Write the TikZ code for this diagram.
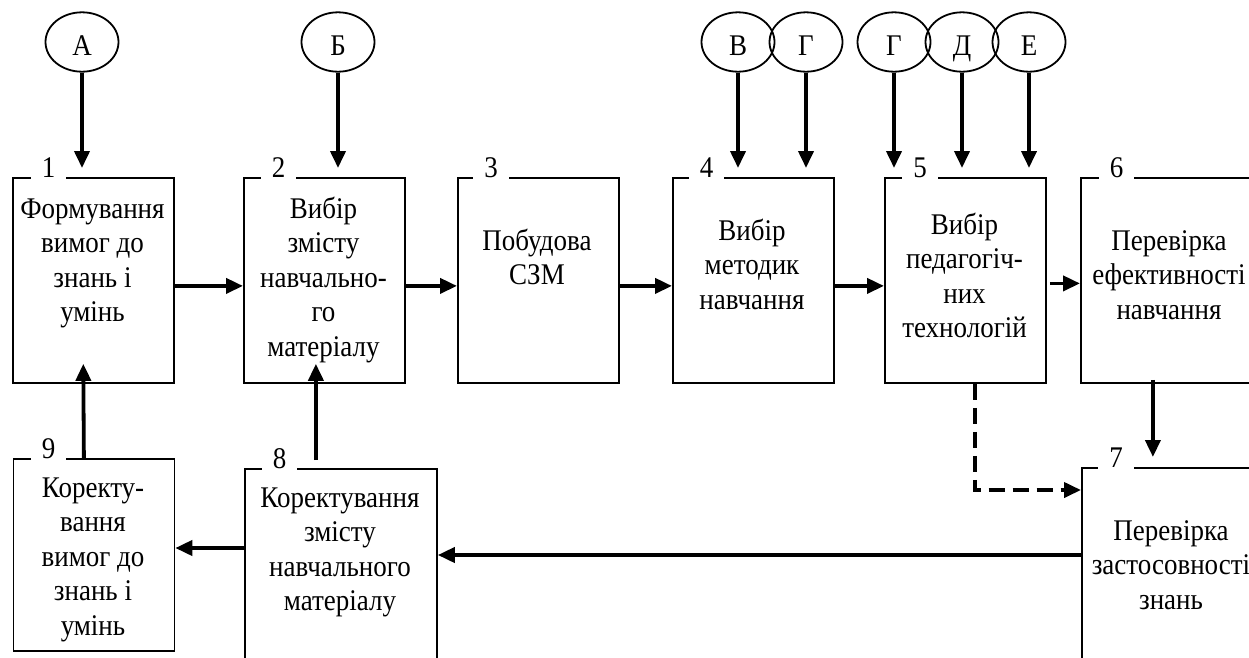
\documentclass[tikz,border=0pt]{standalone}
\usepackage{fontspec}
\setmainfont{Liberation Serif}[FakeStretch=0.9]
\usetikzlibrary{arrows.meta,shapes.geometric}
\newcommand\mystrut{\rule{0pt}{24pt}}
\begin{document}
\begin{tikzpicture}[x=1pt,y=-1pt,
  blk/.style={draw,line width=1.8pt,rectangle,inner sep=0pt,anchor=north west,minimum width=161pt,minimum height=205pt},
  num/.style={fill=white,inner xsep=11pt,inner ysep=2.5pt,anchor=base,font=\fontsize{30}{34}\selectfont},
  txt/.style={align=center,inner sep=0pt,anchor=north,font=\fontsize{30}{34.5}\selectfont},
  src/.style={draw,ellipse,line width=1.8pt,minimum width=73pt,minimum height=58pt,inner sep=0pt,text height=34pt,text depth=8pt,font=\fontsize{30}{34}\selectfont},
  arr/.style={line width=3.8pt,-{Triangle[length=17pt,width=15pt]}},
  darr/.style={arr,dash pattern=on 16pt off 8pt}
]
\useasboundingbox (0,0) rectangle (1249,657);
\clip (0,0) rectangle (1249,657);

% process blocks
\node[blk] (b1) at (12,177) {};
\node[blk] (b2) at (243,177) {};
\node[blk] (b3) at (457,177) {};
\node[blk] (b4) at (672,177) {};
\node[blk] (b5) at (884,177) {};
\node[blk,minimum width=178pt] (b6) at (1080,177) {};
\node[blk,minimum width=180pt,minimum height=220pt] (b7) at (1081,467) {};
\node[blk,minimum width=192pt,minimum height=220pt] (b8) at (244,468) {};
\node[blk,minimum height=192pt] (b9) at (12.5,458) {};

% block numbers set into the top edges
\node[num] (n1) at (48.5,177) {1};
\node[num] (n2) at (278.5,177) {2};
\node[num] (n3) at (491,177) {3};
\node[num] (n4) at (706.5,177) {4};
\node[num] (n5) at (920,177) {5};
\node[num] (n6) at (1116.5,177) {6};
\node[num] (n7) at (1116,467) {7};
\node[num] (n8) at (279.5,468) {8};
\node[num] (n9) at (48.5,458) {9};

% block captions
\node[txt] (t1) at (92.5,194) {\mystrut Формування\\вимог до\\знань і\\умінь};
\node[txt] (t2) at (323.5,194) {\mystrut Вибір\\змісту\\навчально-\\го\\матеріалу};
\node[txt] (t3) at (537,226) {\mystrut Побудова\\СЗМ};
\node[txt] (t4) at (752,216) {\mystrut Вибір\\методик\\навчання};
\node[txt] (t5) at (964.5,210) {\mystrut Вибір\\педагогіч-\\них\\технологій};
\node[txt] (t6) at (1169,226) {\mystrut Перевірка\\ефективності\\навчання};
\node[txt] (t7) at (1171,516) {\mystrut Перевірка\\застосовності\\знань};
\node[txt] (t8) at (340,483) {\mystrut Коректування\\змісту\\навчального\\матеріалу};
\node[txt] (t9) at (93,473) {\mystrut Коректу-\\вання\\вимог до\\знань і\\умінь};

% input factors
\node[src] (eA) at (82,42) {А};
\node[src] (eB) at (338,42) {Б};
\node[src] (eV) at (738,42) {В};
\node[src] (eG) at (806,42) {Г};
\node[src] (eG2) at (894,42) {Г};
\node[src] (eD) at (962,42) {Д};
\node[src] (eE) at (1029,42) {Е};

\draw[arr,shorten >=9pt] (eA.south) -- (eA.south |- b1.north);
\draw[arr,shorten >=9pt] (eB.south) -- (eB.south |- b2.north);
\draw[arr,shorten >=9pt] (eV.south) -- (eV.south |- b4.north);
\draw[arr,shorten >=9pt] (eG.south) -- (eG.south |- b4.north);
\draw[arr,shorten >=9pt] (eG2.south) -- (eG2.south |- b5.north);
\draw[arr,shorten >=9pt] (eD.south) -- (eD.south |- b5.north);
\draw[arr,shorten >=9pt] (eE.south) -- (eE.south |- b5.north);

% main flow
\draw[arr] ([yshift=-5.5pt]b1.east) -- ([yshift=-5.5pt]b2.west);
\draw[arr] ([yshift=-5.5pt]b2.east) -- ([yshift=-5.5pt]b3.west);
\draw[arr] ([yshift=-5.5pt]b3.east) -- ([yshift=-5.5pt]b4.west);
\draw[arr] ([yshift=-5.5pt]b4.east) -- ([yshift=-5.5pt]b5.west);
\draw[arr,shorten <=3pt] ([yshift=-3pt]b5.east) -- ([yshift=-3pt]b6.west);
\draw[arr,shorten <=-4pt,shorten >=10pt] ([xshift=-17pt]b6.south) -- ([xshift=-17pt]b6.south |- b7.north);
\draw[darr] ([xshift=9.5pt]b5.south) |- ([yshift=-23pt]b7.north west);

% feedback loop
\draw[arr] ([yshift=-88pt]b7.north west) -- ([yshift=-88pt]b7.north west -| b8.east);
\draw[arr] ([yshift=-80pt]b8.north west) -- ([yshift=-80pt]b8.north west -| b9.east);
\draw[arr,shorten >=-20pt] ([xshift=-10pt]b9.north) -- ([xshift=-10pt]b1.south);
\draw[arr,shorten <=8pt,shorten >=-20pt] ([xshift=-8.5pt]b2.south |- b8.north) -- ([xshift=-8.5pt]b2.south);
\end{tikzpicture}
\end{document}
